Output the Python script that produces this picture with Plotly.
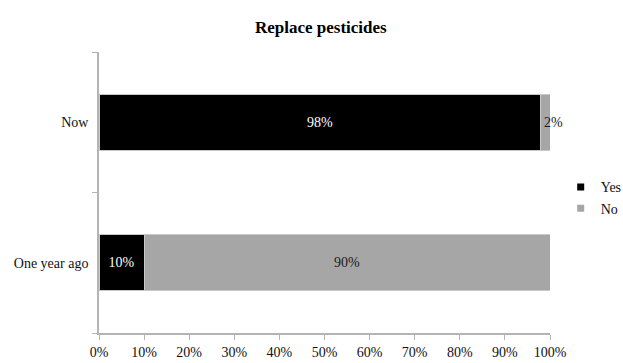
import plotly.graph_objects as go

# Survey answers: share of respondents who replace pesticides
periods = ["One year ago", "Now"]
yes_pct = [10, 98]
no_pct = [90, 2]

series_names = ["Yes", "No"]
series_colors = ["#000000", "#a6a6a6"]
label_colors = ["#ffffff", "#1a1a1a"]

x_ticks = list(range(0, 101, 10))

FONT = "Liberation Serif"

fig = go.Figure()

for name, vals, color, tcolor in zip(series_names, [yes_pct, no_pct], series_colors, label_colors):
    # one bar per period so thin segments can anchor their label at the start
    for period, v in zip(periods, vals):
        fig.add_trace(go.Bar(
            y=[period],
            x=[v],
            orientation="h",
            name=name,
            marker=dict(color=color, line=dict(color="#c8c8c8", width=1)),
            text=[f"{v}%"],
            textposition="inside",
            insidetextanchor="start" if v < 5 else "middle",
            textangle=0,
            textfont=dict(family=FONT, size=14, color=tcolor),
            cliponaxis=False,
            showlegend=False,
            hoverinfo="skip",
        ))
    # small square legend swatch
    fig.add_trace(go.Scatter(
        x=[None], y=[None],
        mode="markers",
        name=name,
        marker=dict(symbol="square", size=7, color=color),
        showlegend=True,
    ))

fig.update_layout(
    width=623,
    height=363,
    margin=dict(l=99, r=73, t=52, b=30, autoexpand=False),
    paper_bgcolor="white",
    plot_bgcolor="white",
    barmode="stack",
    bargap=0.6,
    uniformtext=dict(minsize=14, mode="show"),
    font=dict(family=FONT, size=14, color="#111111"),
    title=dict(
        text="<b>Replace pesticides</b>",
        x=0.515, xanchor="center",
        y=0.926, yanchor="middle",
        font=dict(family=FONT, size=17, color="#000000"),
    ),
    legend=dict(
        xref="container", yref="container",
        x=0.9, xanchor="left",
        y=0.455, yanchor="middle",
        font=dict(family=FONT, size=14, color="#111111"),
        itemwidth=30,
        traceorder="normal",
        tracegroupgap=0,
        bgcolor="rgba(0,0,0,0)",
    ),
    xaxis=dict(
        range=[0, 100],
        tickvals=x_ticks,
        ticktext=[f"{t}%" for t in x_ticks],
        showgrid=False,
        zeroline=False,
        showline=True,
        linecolor="#b4b4b4",
        linewidth=1.5,
        ticks="outside",
        ticklen=5,
        tickcolor="#b4b4b4",
        tickfont=dict(family=FONT, size=14, color="#111111"),
        fixedrange=True,
    ),
    yaxis=dict(
        type="category",
        categoryorder="array",
        categoryarray=periods,
        showgrid=False,
        zeroline=False,
        showline=True,
        linecolor="#b4b4b4",
        linewidth=1.5,
        ticks="outside",
        tickson="boundaries",
        ticklen=5,
        tickcolor="#b4b4b4",
        ticklabelstandoff=6,
        tickfont=dict(family=FONT, size=14, color="#111111"),
        fixedrange=True,
    ),
)

fig.write_html("out.html")
